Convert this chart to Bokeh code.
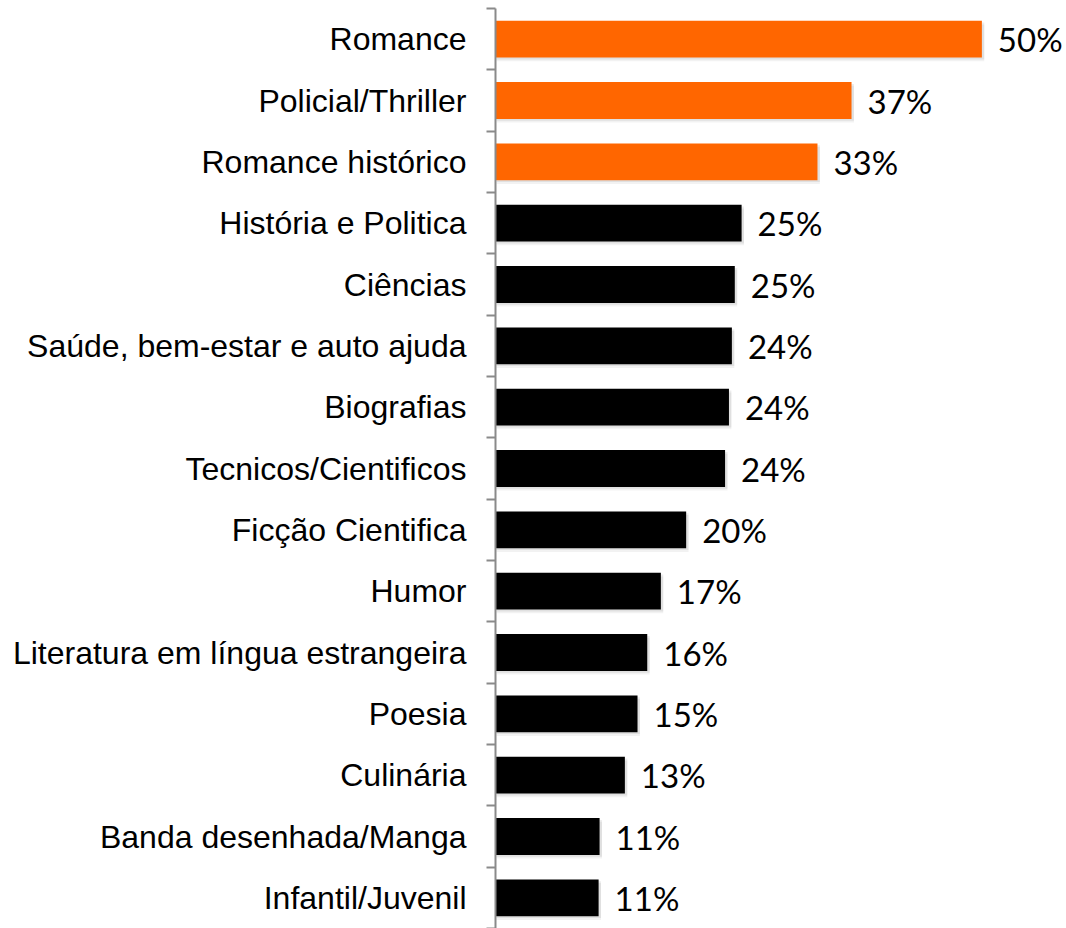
from bokeh.plotting import figure
from bokeh.models import ColumnDataSource, Range1d, LinearAxis, FixedTicker
from bokeh.core.properties import value
from bokeh.embed import file_html
from bokeh.resources import INLINE

categories = ["Romance", "Policial/Thriller", "Romance histórico", "História e Politica",
              "Ciências", "Saúde, bem-estar e auto ajuda", "Biografias", "Tecnicos/Cientificos",
              "Ficção Cientifica", "Humor", "Literatura em língua estrangeira", "Poesia",
              "Culinária", "Banda desenhada/Manga", "Infantil/Juvenil"]
values = [50.0, 36.6, 33.1, 25.3, 24.6, 24.3, 24.0, 23.6, 19.6, 17.0, 15.6, 14.6, 13.3, 10.7, 10.6]
highlight = [True, True, True] + [False] * 12

ORANGE = "#FF6600"
BLACK = "#000000"
n = len(categories)
labels = [f"{round(v)}%" for v in values]
colors = [ORANGE if h else BLACK for h in highlight]
ypos = [n - i - 0.5 for i in range(n)]

src = ColumnDataSource(dict(y=ypos, val=values, lab=labels, col=colors,
                            shadow=[v + 0.25 for v in values],
                            ys1=[y - 0.06 for y in ypos], ys2=[y - 0.03 for y in ypos]))

p = figure(width=1066, height=928, output_backend="svg", toolbar_location=None,
           y_range=Range1d(0, n), x_range=Range1d(0, 58.7),
           x_axis_location=None, y_axis_location=None,
           min_border_left=495, min_border_right=0, min_border_top=8, min_border_bottom=0)
p.outline_line_color = None
p.xgrid.visible = False
p.ygrid.visible = False

# soft shadows
p.hbar(y="ys1", left=0.1, right="shadow", height=0.6,
       source=src, fill_color="black", fill_alpha=0.05, line_color=None)
p.hbar(y="ys2", left=0.1, right="shadow", height=0.6,
       source=src, fill_color="black", fill_alpha=0.07, line_color=None)

p.hbar(y="y", left=0, right="val", height=0.6, source=src,
       fill_color="col", line_color=None)

p.text(x="val", y="y", text="lab", source=src, x_offset=16, text_baseline="middle",
       text_align="left", text_font=value("Lato"), text_font_size="33px", text_color="black")

axis = LinearAxis(ticker=FixedTicker(ticks=ypos, minor_ticks=list(range(n + 1))))
axis.major_label_overrides = {y: c for y, c in zip(ypos, categories)}
axis.axis_line_color = "#8a8a8a"
axis.axis_line_width = 2
axis.major_tick_line_color = None
axis.major_tick_out = 0
axis.major_tick_in = 0
axis.minor_tick_line_color = "#8a8a8a"
axis.minor_tick_line_width = 2
axis.minor_tick_out = 9
axis.minor_tick_in = 0
axis.major_label_standoff = 20
axis.major_label_text_font = "Liberation Sans"
axis.major_label_text_font_size = "32px"
axis.major_label_text_color = "black"
p.add_layout(axis, "left")

open("out.html", "w").write(file_html(p, INLINE))
